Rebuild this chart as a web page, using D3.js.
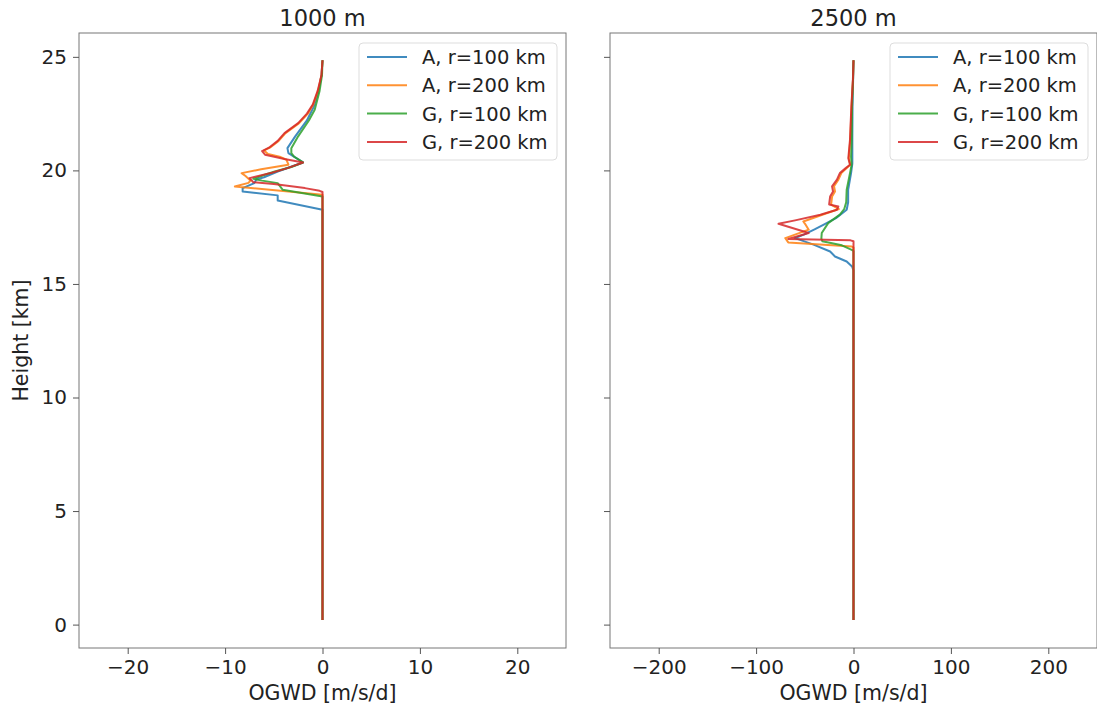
<!DOCTYPE html>
<html>
<head>
<meta charset="utf-8">
<script src="https://cdn.jsdelivr.net/npm/d3@7"></script>
<style>
  body { margin: 0; background: #fff; }
  text { font-family: "DejaVu Sans", sans-serif; fill: #222; }
</style>
</head>
<body>
<div id="chart"></div>
<script>
// series labels / colours
const labels = ["A, r=100 km", "A, r=200 km", "G, r=100 km", "G, r=200 km"];
const colors = ["#1f77b4", "#ff7f0e", "#2ca02c", "#d62728"];
const titles = ["1000 m", "2500 m"];
const xTicks1000 = [-20, -10, 0, 10, 20];
const xTicks2500 = [-200, -100, 0, 100, 200];
const yTicks = [0, 5, 10, 15, 20, 25];

// 1000 m panel
const a100_1000_h = [0.2, 18.27, 18.67, 18.9, 19.07, 19.22, 19.44, 19.6, 19.7, 19.95, 20.35, 20.76, 20.98, 21.5, 22.2, 22.8, 23.5, 24.2, 24.85];
const a100_1000_v = [0, 0, -4.6, -4.6, -8.2, -8.2, -7.0, -6.8, -6.0, -4.6, -2.0, -3.5, -3.6, -2.8, -1.6, -0.9, -0.4, -0.1, 0];
const a200_1000_h = [0.2, 18.93, 19.29, 19.45, 19.55, 19.75, 19.88, 20.05, 20.25, 20.47, 20.6, 20.72, 20.88, 21.0, 21.3, 21.64, 22.08, 22.5, 22.9, 23.5, 24.2, 24.85];
const a200_1000_v = [0, 0, -9.0, -7.6, -7.4, -7.9, -8.3, -6.3, -3.5, -3.7, -4.4, -5.6, -6.0, -5.4, -4.5, -3.8, -2.4, -1.5, -0.95, -0.45, -0.1, 0];
const g100_1000_h = [0.2, 18.85, 19.15, 19.44, 19.55, 19.63, 19.8, 19.95, 20.15, 20.35, 20.6, 20.76, 20.98, 21.5, 22.2, 22.67, 23.5, 24.2, 24.85];
const g100_1000_v = [0, 0, -4.1, -4.6, -6.2, -7.1, -6.0, -4.9, -3.2, -2.0, -2.9, -3.2, -3.2, -2.5, -1.4, -0.8, -0.3, -0.05, 0];
const g200_1000_h = [0.2, 19.05, 19.1, 19.22, 19.4, 19.48, 19.66, 19.9, 20.1, 20.35, 20.5, 20.69, 20.85, 21.0, 21.3, 21.64, 22.08, 22.5, 22.9, 23.5, 24.2, 24.85];
const g200_1000_v = [0, 0, -0.3, -1.8, -5.0, -7.1, -7.5, -5.2, -3.6, -2.0, -3.9, -5.9, -6.2, -5.5, -4.6, -3.9, -2.5, -1.6, -1.0, -0.5, -0.1, 0];

// 2500 m panel
const a100_2500_h = [0.2, 15.6, 15.77, 15.99, 16.21, 16.43, 16.73, 17.02, 17.17, 17.4, 17.6, 17.9, 18.27, 18.6, 19.15, 19.88, 20.3, 21.35, 22.8, 24.0, 24.85];
const a100_2500_v = [0, 0, -1.5, -7, -19, -24, -41, -60, -51, -40, -31, -18, -7, -5.5, -5.5, -2.5, -1.2, -1.2, -1.0, -0.4, 0];
const a200_2500_h = [0.2, 16.6, 16.65, 16.83, 17.02, 17.39, 17.6, 17.75, 18.05, 18.3, 18.49, 18.85, 19.07, 19.3, 19.59, 19.88, 20.1, 20.25, 20.54, 21.35, 22.8, 24.0, 24.85];
const a200_2500_v = [0, 0, -1.8, -67, -70, -46, -49, -51.5, -32, -15, -23, -22, -19, -20, -15.5, -12.5, -7, -3.3, -4.8, -3.3, -2.0, -0.5, 0];
const g100_2500_h = [0.2, 16.45, 16.5, 16.7, 16.88, 17.0, 17.24, 17.68, 18.05, 18.3, 18.6, 19.15, 19.88, 20.25, 20.6, 21.35, 22.8, 24.0, 24.85];
const g100_2500_v = [0, 0, -1.8, -12, -32, -33, -32.6, -26, -14, -9.5, -7.5, -7, -3.6, -1.9, -2.5, -1.8, -1.5, -0.5, 0];
const g200_2500_h = [0.2, 16.88, 16.92, 16.98, 17.24, 17.65, 17.8, 18.05, 18.27, 18.41, 18.5, 18.85, 19.07, 19.3, 19.59, 19.88, 20.1, 20.25, 20.54, 21.35, 22.8, 24.0, 24.85];
const g200_2500_v = [0, 0, -3, -67, -46, -77, -60, -34, -17, -15.6, -25, -24, -21, -22, -17, -14, -8, -3.6, -5.3, -3.6, -2.2, -0.6, 0];

const panels = [
  { title: titles[0], xmax: 25, ticks: xTicks1000, left: 79,
    series: [[a100_1000_h, a100_1000_v], [a200_1000_h, a200_1000_v], [g100_1000_h, g100_1000_v], [g200_1000_h, g200_1000_v]] },
  { title: titles[1], xmax: 250, ticks: xTicks2500, left: 610,
    series: [[a100_2500_h, a100_2500_v], [a200_2500_h, a200_2500_v], [g100_2500_h, g100_2500_v], [g200_2500_h, g200_2500_v]] }
];

const width = 1097, height = 708;
const pw = 487, plotTop = 33, plotBottom = 648;

const svg = d3.select("#chart").append("svg")
  .attr("width", width).attr("height", height);

const y = d3.scaleLinear().domain([-1.03, 26.05]).range([plotBottom, plotTop]);

panels.forEach((p, pi) => {
  const x = d3.scaleLinear().domain([-p.xmax, p.xmax]).range([p.left, p.left + pw]);
  const g = svg.append("g");

  // frame
  g.append("rect")
    .attr("x", p.left).attr("y", plotTop)
    .attr("width", pw).attr("height", plotBottom - plotTop)
    .attr("fill", "none").attr("stroke", "#777").attr("stroke-width", 1);

  const xa = g.append("g")
    .attr("transform", `translate(0,${plotBottom})`)
    .call(d3.axisBottom(x).tickValues(p.ticks).tickSize(6).tickPadding(6));
  const ya = g.append("g")
    .attr("transform", `translate(${p.left},0)`)
    .call(d3.axisLeft(y).tickValues(yTicks).tickSize(6).tickPadding(6)
      .tickFormat(pi === 0 ? d3.format("d") : () => ""));
  [xa, ya].forEach(a => {
    a.select(".domain").remove();
    a.selectAll(".tick line").attr("stroke", "#555");
    a.selectAll(".tick text").attr("font-size", 20).attr("fill", "#222");
  });

  const line = d3.line().x(d => x(d[1])).y(d => y(d[0]));
  p.series.forEach((s, i) => {
    const pts = d3.zip(s[0], s[1]);
    g.append("path")
      .datum(pts)
      .attr("d", line)
      .attr("fill", "none")
      .attr("stroke", colors[i])
      .attr("stroke-opacity", 0.85)
      .attr("stroke-width", 2)
      .attr("stroke-linejoin", "round");
  });

  g.append("text")
    .attr("x", p.left + pw / 2).attr("y", 26)
    .attr("text-anchor", "middle").attr("font-size", 22.5)
    .text(p.title);

  g.append("text")
    .attr("x", p.left + pw / 2).attr("y", 700)
    .attr("text-anchor", "middle").attr("font-size", 20.5)
    .text("OGWD [m/s/d]");

  // legend
  const lx = p.left + 280, ly = 43;
  const lg = g.append("g").attr("transform", `translate(${lx},${ly})`);
  lg.append("rect")
    .attr("width", 198).attr("height", 117).attr("rx", 4)
    .attr("fill", "#fff").attr("fill-opacity", 0.8)
    .attr("stroke", "#ddd");
  labels.forEach((lab, i) => {
    const yy = 14 + i * 28.3;
    lg.append("line")
      .attr("x1", 8).attr("x2", 48).attr("y1", yy).attr("y2", yy)
      .attr("stroke", colors[i]).attr("stroke-opacity", 0.85).attr("stroke-width", 2);
    lg.append("text")
      .attr("x", 63).attr("y", yy + 7)
      .attr("font-size", 19.5)
      .text(lab);
  });
});

svg.append("text")
  .attr("transform", `translate(28,${(plotTop + plotBottom) / 2}) rotate(-90)`)
  .attr("text-anchor", "middle").attr("font-size", 20.5)
  .text("Height [km]");
</script>
</body>
</html>
